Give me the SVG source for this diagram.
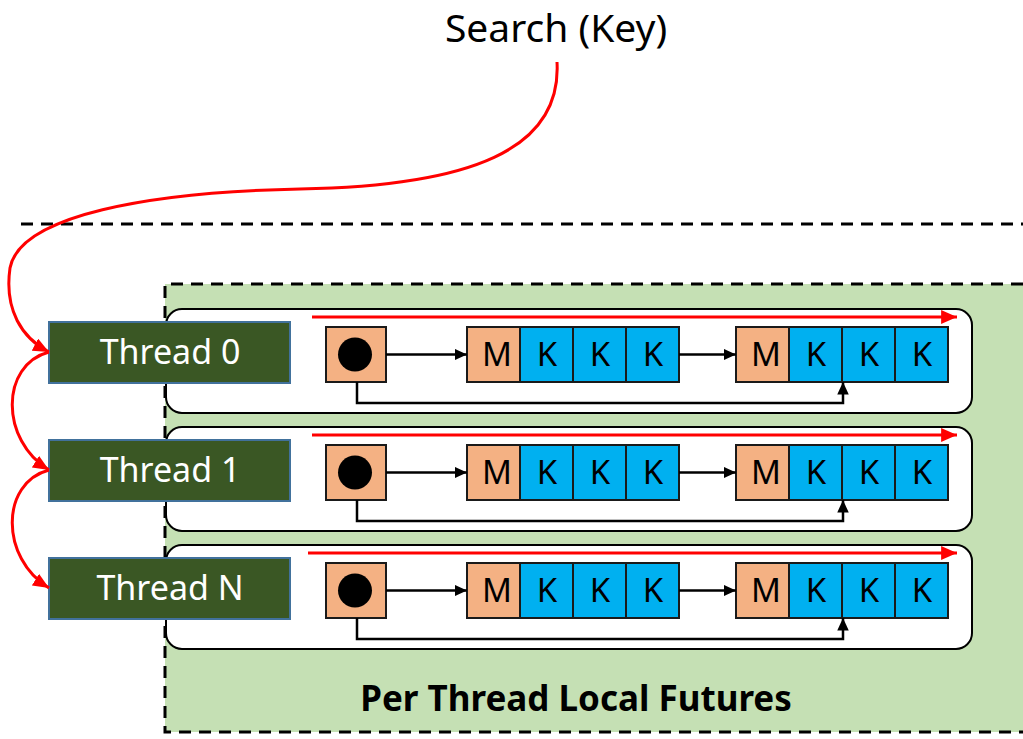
<svg xmlns="http://www.w3.org/2000/svg" width="1023" height="739" viewBox="0 0 1023 739">
  <defs>
    <style>
      .dash { fill: none; stroke: #000; stroke-width: 3; stroke-dasharray: 12 8; }
      .lane { fill: #fff; stroke: #000; stroke-width: 2; }
      .thread rect { fill: #3A5724; stroke: #41719C; stroke-width: 2; }
      .thread text { fill: #fff; font-family: "Noto Sans", "Open Sans", sans-serif; font-size: 34px; text-anchor: middle; }
      .meta { fill: #F4B183; stroke: #1a1a1a; stroke-width: 2; }
      .key { fill: #00B0F0; stroke: #1a1a1a; stroke-width: 2; }
      .cell { fill: #000; font-family: "Noto Sans", "Open Sans", sans-serif; font-size: 33px; text-anchor: middle; }
      .link { fill: none; stroke: #000; stroke-width: 2.5; }
      .scan { fill: none; stroke: #FF0000; stroke-width: 3; }
      .hop { fill: none; stroke: #FF0000; stroke-width: 3; }
    </style>
    <marker id="blk" viewBox="0 0 10 10" refX="10" refY="5" markerWidth="5" markerHeight="4.6" preserveAspectRatio="none" markerUnits="strokeWidth" orient="auto">
      <path d="M0,0 L10,5 L0,10 z" fill="#000"/>
    </marker>
    <marker id="red" viewBox="0 0 10 10" refX="10" refY="5" markerWidth="5.3" markerHeight="4.6" preserveAspectRatio="none" markerUnits="strokeWidth" orient="auto">
      <path d="M0,0 L10,5 L0,10 z" fill="#FF0000"/>
    </marker>
    <g id="chain">
      <rect class="meta" x="0" y="0" width="53" height="55"/>
      <rect class="key" x="53" y="0" width="53" height="55"/>
      <rect class="key" x="106" y="0" width="53" height="55"/>
      <rect class="key" x="159" y="0" width="53" height="55"/>
      <text class="cell" x="30" y="39">M</text>
      <text class="cell" x="80" y="39">K</text>
      <text class="cell" x="133" y="39">K</text>
      <text class="cell" x="186" y="39">K</text>
    </g>
    <g id="lane">
      <rect class="lane" x="166" y="0" width="806" height="104" rx="16"/>
      <rect class="meta" x="326" y="18" width="60" height="55"/>
      <circle cx="355" cy="45.5" r="17" fill="#000"/>
      <use href="#chain" x="467" y="18"/>
      <use href="#chain" x="736" y="18"/>
      <path class="link" d="M386,45.5 H467" marker-end="url(#blk)"/>
      <path class="link" d="M679,45.5 H736" marker-end="url(#blk)"/>
      <path class="link" d="M357,73 V94 H843 V73" marker-end="url(#blk)"/>
    </g>
  </defs>

  <!-- process boundary -->
  <line class="dash" x1="21" y1="224" x2="1023" y2="224"/>

  <!-- per-thread futures area -->
  <g id="futures">
    <rect x="165" y="284" width="870" height="448" fill="#C5E0B4"/>
    <path class="dash" d="M1023,284 H165 V732 H1023"/>
    <text x="576" y="711" font-family="Noto Sans, Open Sans, sans-serif" font-size="35" font-weight="bold" text-anchor="middle" fill="#000">Per Thread Local Futures</text>
  </g>

  <!-- lanes -->
  <g id="lane0"><use href="#lane" y="309"/></g>
  <g id="lane1"><use href="#lane" y="427"/></g>
  <g id="lane2"><use href="#lane" y="545"/></g>

  <!-- threads -->
  <g id="thread0" class="thread">
    <rect x="49" y="322" width="241" height="61"/>
    <text x="170" y="364">Thread 0</text>
  </g>
  <g id="thread1" class="thread">
    <rect x="49" y="440" width="241" height="61"/>
    <text x="170" y="482">Thread 1</text>
  </g>
  <g id="threadN" class="thread">
    <rect x="49" y="558" width="241" height="61"/>
    <text x="170" y="600">Thread N</text>
  </g>

  <!-- search request -->
  <g id="search">
    <text x="556" y="42" font-family="Noto Sans, Open Sans, sans-serif" font-size="39" text-anchor="middle" fill="#000">Search (Key)</text>
  </g>

  <!-- connectors -->
  <g id="connectors">
    <path class="scan" d="M312,317 H957" marker-end="url(#red)"/>
    <path class="scan" d="M312,435 H957" marker-end="url(#red)"/>
    <path class="scan" d="M308,553 H957" marker-end="url(#red)"/>
    <path class="hop" d="M557,62 C562,150 470,186 300,189 C150,192 20,215 10,268 C4,310 22,338 49,352" marker-end="url(#red)"/>
    <path class="hop" d="M49,352 C0,365 0,440 49,470" marker-end="url(#red)"/>
    <path class="hop" d="M49,470 C0,483 0,558 49,588" marker-end="url(#red)"/>
  </g>
</svg>
